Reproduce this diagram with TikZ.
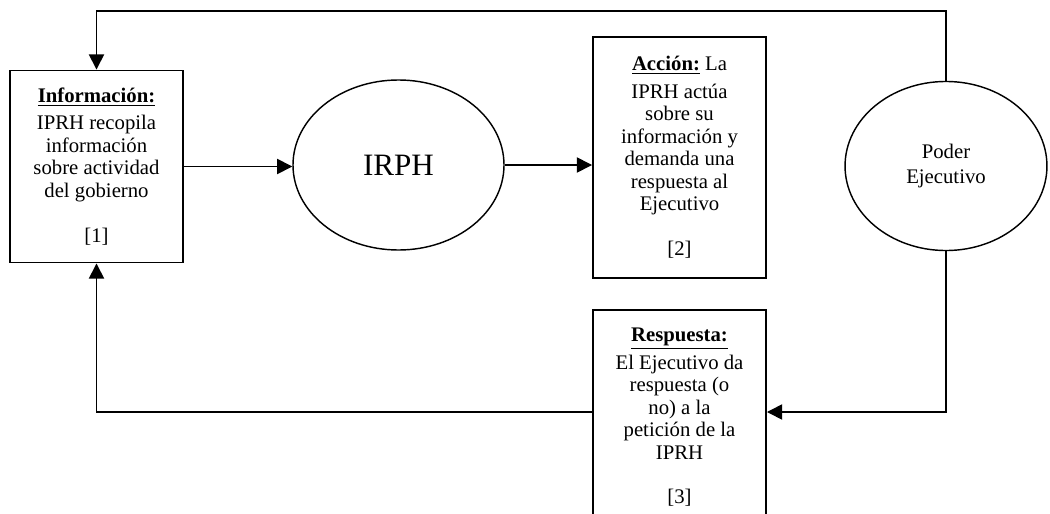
\documentclass[tikz,border=0pt]{standalone}
\usepackage{fontspec}
\setmainfont{Liberation Serif}
\usetikzlibrary{arrows.meta, shapes.geometric}

\begin{document}
\begin{tikzpicture}[x=0.627pt, y=-0.627pt,
    box/.style={draw, line width=1.2pt, align=center, inner sep=0pt,
                minimum width=108.5pt, font=\fontsize{13}{14.1}\selectfont},
    oval/.style={draw, ellipse, line width=0.9pt, align=center, inner sep=0pt},
    arr/.style={line width=1pt, -{Triangle[length=9.5pt, width=9.5pt]}}]

\def \topy {11}
\def \boty {412}
\def \head {\\[3pt]}
\def \gap {\\[14pt]}

\useasboundingbox (0,0) rectangle (1050,513);

    \node[box, minimum height=120.4pt] (info) at (96.5,166.5)
        {\textbf{\underline{Información:}}\head IPRH recopila\\información\\sobre actividad\\del gobierno\gap [1]};
    \node[oval, minimum width=132.3pt, minimum height=106.6pt,
          font=\fontsize{19.5}{22}\selectfont] (irph) at (398.5,165) {IRPH};
    \node[box, minimum height=150.8pt] (accion) at (679.5,157.3)
        {\textbf{\underline{Acción:}} La\head IPRH actúa\\sobre su\\información y\\demanda una\\respuesta al\\Ejecutivo\gap [2]};
    \node[oval, minimum width=126.6pt, minimum height=106pt,
          font=\fontsize{13}{15.5}\selectfont] (poder) at (946,166) {Poder\\Ejecutivo};
    \node[box, minimum height=135pt] (resp) at (679.5,417.5)
        {\textbf{\underline{Respuesta:}}\head El Ejecutivo da\\respuesta (o\\no) a la\\petición de la\\IPRH\gap [3]};

\coordinate (top) at (0,\topy);
\coordinate (bot) at (0,\boty);

\draw[arr] (info) -- (info -| irph.west);
\draw[arr] (irph) -- (irph -| accion.west);
% loops
\draw[arr] (poder.north) |- (info.north |- top) -- (info.north);
\draw[arr] (poder.south) |- (resp.east |- bot);
\draw[arr] (resp.west |- bot) -| (info.south);
\end{tikzpicture}
\end{document}
